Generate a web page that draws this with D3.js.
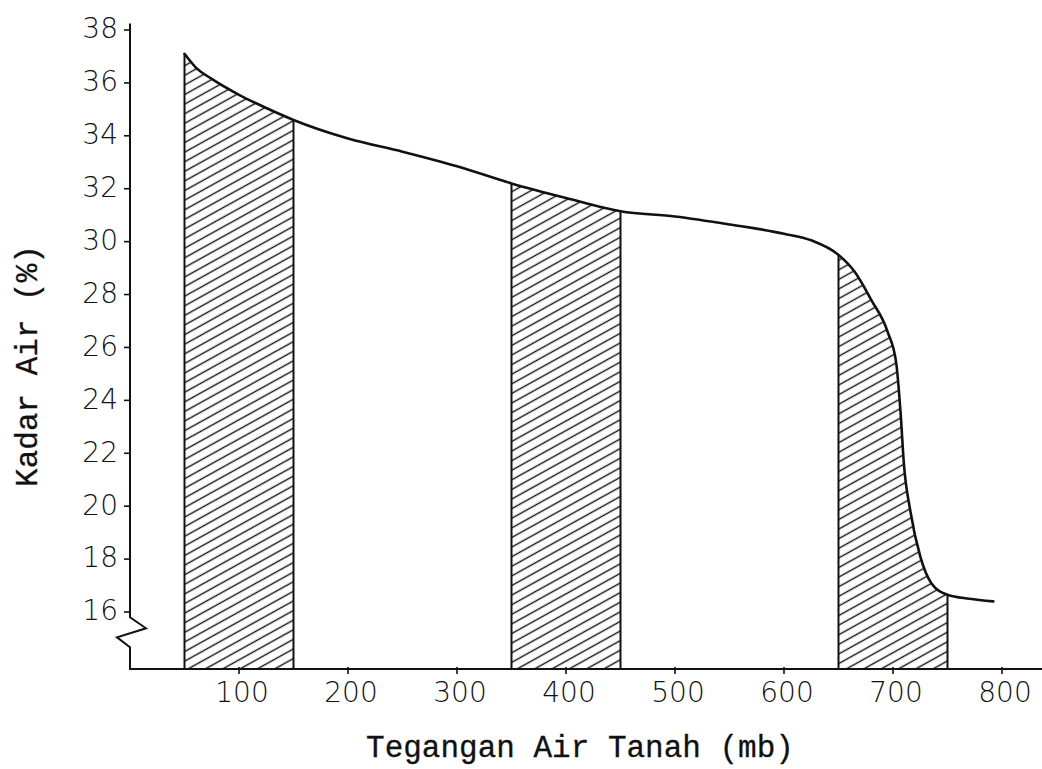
<!DOCTYPE html>
<html>
<head>
<meta charset="utf-8">
<script src="https://cdn.jsdelivr.net/npm/d3@7"></script>
<style>
  html, body { margin: 0; padding: 0; background: #fff; }
  svg { display: block; }
  .tick-label { font-family: "DejaVu Sans", sans-serif; font-weight: 200; font-size: 28px; fill: #111; }
  .title { font-family: "Liberation Mono", "Courier New", monospace; font-size: 31px; fill: #111; stroke: #111; stroke-width: 0.3px; }
</style>
</head>
<body>
<svg id="chart" width="1042" height="769"></svg>
<script>
// Soil water tension (mb) vs. water content (%)
const tension = [50, 60, 75, 100, 125, 150, 200, 250, 300, 350, 400, 450, 500, 550, 600, 625, 650,
                 665, 680, 695, 703, 707, 710, 716, 725, 735, 750, 770, 792];
const waterContent = [37.1, 36.6, 36.15, 35.55, 35.05, 34.6, 33.9, 33.4, 32.85, 32.2, 31.65, 31.15, 30.95, 30.65, 30.3, 30.05, 29.5,
                      28.85, 27.8, 26.6, 25.4, 23.5, 21.6, 19.8, 18.1, 17.1, 16.65, 16.5, 16.4];

// Shaded tension intervals
const bandStart = [50, 350, 650];
const bandEnd = [150, 450, 750];

// Axis ticks
const xTicks = [100, 200, 300, 400, 500, 600, 700, 800];
const yTicks = [16, 18, 20, 22, 24, 26, 28, 30, 32, 34, 36, 38];

const xTitle = "Tegangan Air Tanah (mb)";
const yTitle = "Kadar Air (%)";

const svg = d3.select("#chart");
const ink = "#111";

const x = d3.scaleLinear().domain([0, 800]).range([130, 1002]);
const y = d3.scaleLinear().domain([16, 38]).range([612, 30]);

const baseY = y(13.85);        // x axis sits below the broken y axis
const axisX = x(0);
const rightEnd = 1042;

// Hatch pattern
const defs = svg.append("defs");
const pat = defs.append("pattern")
  .attr("id", "hatch")
  .attr("patternUnits", "userSpaceOnUse")
  .attr("width", 40)
  .attr("height", 8.4)
  .attr("patternTransform", "rotate(-29)");
pat.append("line")
  .attr("x1", 0).attr("x2", 40)
  .attr("y1", 4.2).attr("y2", 4.2)
  .attr("stroke", ink).attr("stroke-width", 1.5);

const pts = tension.map((t, i) => [t, waterContent[i]]);
const valueAt = t => waterContent[tension.indexOf(t)];

bandStart.forEach((a, i) => {
  defs.append("clipPath").attr("id", "band" + i)
    .append("rect")
    .attr("x", x(a)).attr("y", 0)
    .attr("width", x(bandEnd[i]) - x(a)).attr("height", baseY);
});

const area = d3.area()
  .x(d => x(d[0]))
  .y0(baseY)
  .y1(d => y(d[1]))
  .curve(d3.curveMonotoneX);

bandStart.forEach((a, i) => {
  svg.append("path")
    .attr("d", area(pts))
    .attr("fill", "url(#hatch)")
    .attr("clip-path", `url(#band${i})`);
  [a, bandEnd[i]].forEach(t => {
    svg.append("line")
      .attr("x1", x(t)).attr("x2", x(t))
      .attr("y1", baseY).attr("y2", y(valueAt(t)))
      .attr("stroke", ink).attr("stroke-width", 2);
  });
});

// Curve
const line = d3.line()
  .x(d => x(d[0]))
  .y(d => y(d[1]))
  .curve(d3.curveMonotoneX);
svg.append("path")
  .attr("d", line(pts))
  .attr("fill", "none")
  .attr("stroke", ink)
  .attr("stroke-width", 2.6)
  .attr("stroke-linejoin", "round")
  .attr("stroke-linecap", "round");

// Y axis with break symbol near the bottom
const yTop = y(38.25);
const breakTop = y(15.8);
const yAxisPath = d3.path();
yAxisPath.moveTo(axisX, yTop);
yAxisPath.lineTo(axisX, breakTop);
yAxisPath.lineTo(axisX + 16, breakTop + 11);
yAxisPath.lineTo(axisX - 13, breakTop + 20);
yAxisPath.lineTo(axisX, breakTop + 30);
yAxisPath.lineTo(axisX, baseY);
yAxisPath.lineTo(rightEnd, baseY);
svg.append("path")
  .attr("d", yAxisPath.toString())
  .attr("fill", "none")
  .attr("stroke", ink)
  .attr("stroke-width", 2)
  .attr("stroke-linejoin", "miter");

// Y ticks and labels
const yG = svg.append("g");
yTicks.forEach(v => {
  yG.append("line")
    .attr("x1", axisX - 6).attr("x2", axisX)
    .attr("y1", y(v)).attr("y2", y(v))
    .attr("stroke", ink).attr("stroke-width", 1.6);
  yG.append("text")
    .attr("class", "tick-label")
    .attr("x", axisX - 12)
    .attr("y", y(v))
    .attr("dy", "0.3em")
    .attr("text-anchor", "end")
    .text(v);
});

// X ticks and labels
const xG = svg.append("g");
xTicks.forEach(v => {
  xG.append("line")
    .attr("x1", x(v)).attr("x2", x(v))
    .attr("y1", baseY - 2).attr("y2", baseY + 5)
    .attr("stroke", ink).attr("stroke-width", 1.6);
  xG.append("text")
    .attr("class", "tick-label")
    .attr("x", x(v) + 3)
    .attr("y", baseY + 33)
    .attr("text-anchor", "middle")
    .text(v);
});

// Axis titles
svg.append("text")
  .attr("class", "title")
  .attr("x", 580)
  .attr("y", 757)
  .attr("text-anchor", "middle")
  .text(xTitle);

svg.append("text")
  .attr("class", "title")
  .attr("transform", "translate(37,366) rotate(-90)")
  .attr("text-anchor", "middle")
  .text(yTitle);
</script>
</body>
</html>
